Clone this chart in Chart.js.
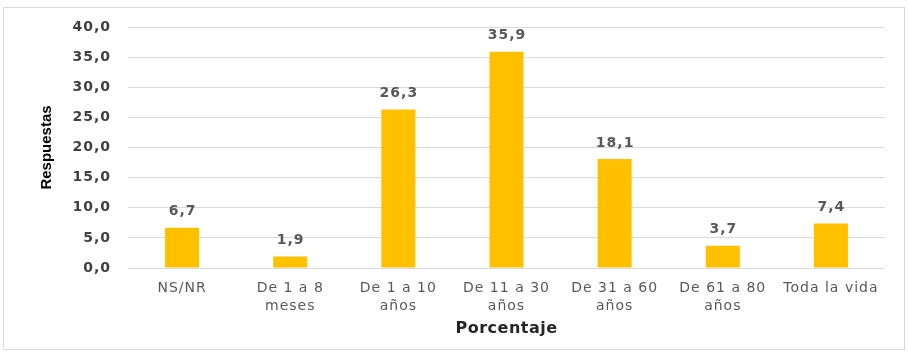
<!DOCTYPE html>
<html><head><meta charset="utf-8">
<script src="https://cdn.jsdelivr.net/npm/chart.js@4.4.1/dist/chart.umd.min.js"></script>
<style>html,body{margin:0;padding:0;background:#fff}#wrap{width:909px;height:353px;position:relative}</style>
</head><body><div id="wrap"><canvas id="c" width="909" height="353"></canvas></div>
<script>
const categories = [['NS/NR'], ['De 1 a 8', 'meses'], ['De 1 a 10', 'años'], ['De 11 a 30', 'años'], ['De 31 a 60', 'años'], ['De 61 a 80', 'años'], ['Toda la vida']];
const values = [6.7, 1.9, 26.3, 35.9, 18.1, 3.7, 7.4];
const yTicks = [0, 5, 10, 15, 20, 25, 30, 35, 40];
const yTitle = 'Respuestas';
const xTitle = 'Porcentaje';

const fmt = v => v.toFixed(1).replace('.', ',');

const borderPlugin = {
  id: 'border',
  beforeDraw(chart) {
    const ctx = chart.ctx;
    ctx.save();
    ctx.fillStyle = '#fff';
    ctx.fillRect(0, 0, chart.width, chart.height);
    ctx.strokeStyle = '#d9d9d9';
    ctx.lineWidth = 1;
    ctx.strokeRect(3.5, 7.5, 901, 342);
    ctx.restore();
  }
};
const labelPlugin = {
  id: 'labels',
  afterDatasetsDraw(chart) {
    const ctx = chart.ctx;
    const meta = chart.getDatasetMeta(0);
    ctx.save();
    ctx.letterSpacing = '1px';
    ctx.font = 'bold 14px "DejaVu Sans"';
    ctx.fillStyle = '#595959';
    ctx.textAlign = 'center';
    ctx.textBaseline = 'middle';
    meta.data.forEach((bar, i) => {
      ctx.fillText(fmt(values[i]), bar.x + 0.5, bar.y - 16);
    });
    ctx.restore();
  }
};

const chart = new Chart(document.getElementById('c'), {
  type: 'bar',
  data: {
    labels: categories,
    datasets: [{ data: values, backgroundColor: '#FFC000', barPercentage: 0.63, categoryPercentage: 0.5 }]
  },
  options: {
    responsive: false,
    animation: false,
    devicePixelRatio: 1,
    layout: { padding: { top: 27, right: 24, left: 0, bottom: 0 } },
    plugins: { legend: { display: false }, tooltip: { enabled: false } },
    scales: {
      x: {
        grid: { display: false, drawTicks: false },
        border: { display: false },
        ticks: { color: '#595959', font: { family: '"DejaVu Sans"', size: 14, lineHeight: 1.3 }, padding: 11, maxRotation: 0, autoSkip: false },
        title: { display: true, text: xTitle, color: '#262626', font: { family: '"DejaVu Sans"', size: 16, weight: 'bold' }, padding: { top: 0, bottom: 15 } },
        afterFit(s) { s.height = 85; }
      },
      y: {
        min: 0, max: 40,
        afterBuildTicks(s) { s.ticks = yTicks.map(v => ({ value: v })); },
        grid: { color: '#d9d9d9', drawTicks: false },
        border: { display: false },
        ticks: { color: '#404040', font: { family: '"DejaVu Sans"', size: 14, weight: 'bold' }, padding: 17, callback: v => fmt(v) },
        title: { display: true, text: yTitle, color: '#000', font: { family: '"Liberation Sans Narrow", "Liberation Sans"', size: 15, weight: 'bold' }, padding: { top: 38, bottom: 0 } },
        afterFit(s) { s.width = 128; }
      }
    }
  },
  plugins: [borderPlugin, labelPlugin]
});

function withSpacing(scale, fnName, spacing) {
  const orig = scale[fnName].bind(scale);
  scale[fnName] = function (area) {
    const ctx = this.ctx;
    ctx.save();
    ctx.letterSpacing = spacing;
    orig(area);
    ctx.restore();
  };
}
withSpacing(chart.scales.x, 'drawLabels', '1px');
withSpacing(chart.scales.y, 'drawLabels', '1px');
withSpacing(chart.scales.x, 'drawTitle', '0.5px');
chart.draw();
</script>
</body></html>
